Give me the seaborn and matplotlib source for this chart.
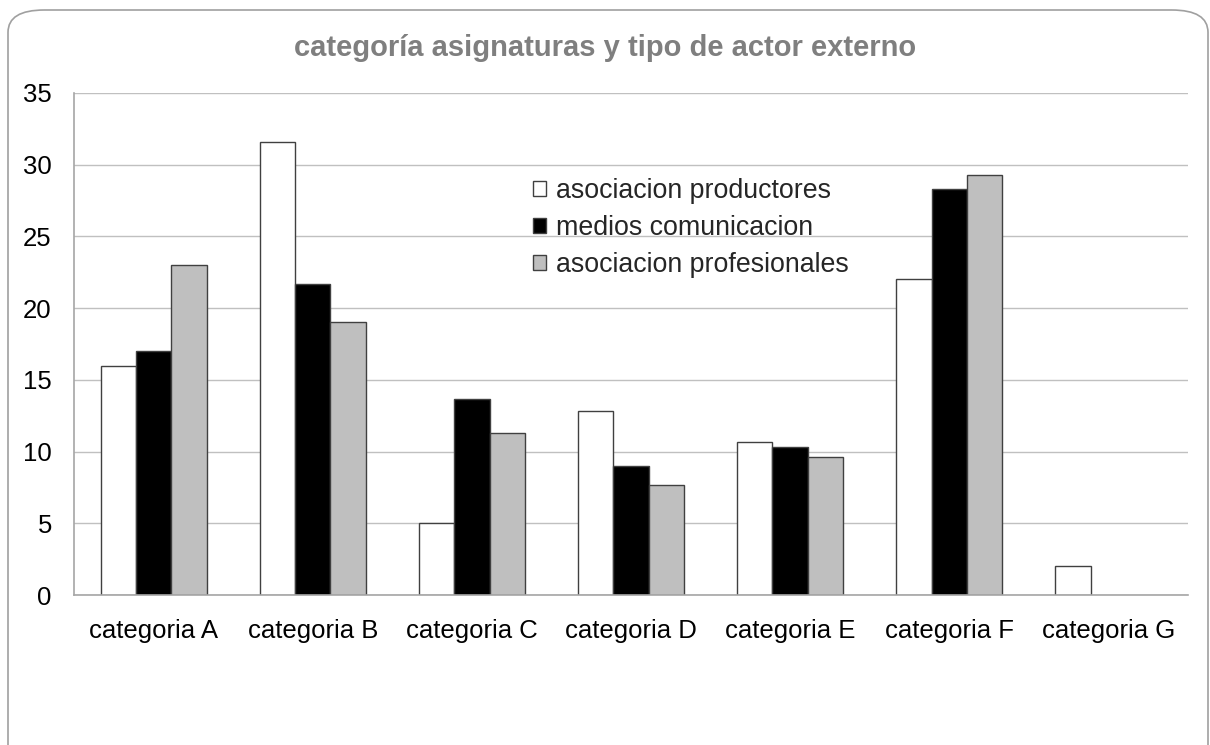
import pandas as pd
import seaborn as sns
import matplotlib.pyplot as plt
from matplotlib.patches import FancyBboxPatch, Patch

# values
categorias = ["categoria A", "categoria B", "categoria C", "categoria D",
              "categoria E", "categoria F", "categoria G"]
series = ["asociacion productores", "medios comunicacion", "asociacion profesionales"]
productores = [16.0, 31.6, 5.0, 12.8, 10.7, 22.0, 2.0]
medios = [17.0, 21.7, 13.7, 9.0, 10.3, 28.3, 0.0]
profesionales = [23.0, 19.0, 11.3, 7.7, 9.6, 29.3, 0.0]
colores = ["#ffffff", "#000000", "#bfbfbf"]

df = pd.DataFrame({
    "categoria": categorias * 3,
    "actor": [series[0]] * 7 + [series[1]] * 7 + [series[2]] * 7,
    "valor": productores + medios + profesionales,
})

sns.set_theme(style="white")
plt.rcParams['font.family'] = ['Liberation Sans', 'DejaVu Sans']

fig = plt.figure(figsize=(12.1, 7.45), dpi=100)
ax = fig.add_axes([0.0612, 0.2013, 0.9206, 0.6739])

# rounded chart border
border = FancyBboxPatch((8 / 1210, -30 / 745), 1200 / 1210, 765 / 745,
                        boxstyle="round,pad=0,rounding_size=0.03",
                        transform=fig.transFigure, facecolor="none",
                        edgecolor="#a0a0a0", linewidth=1.2, zorder=0)
fig.patches.append(border)

sns.barplot(data=df, x="categoria", y="valor", hue="actor", hue_order=series,
            palette=colores, width=0.667, gap=0, edgecolor="#404040",
            linewidth=1.0, saturation=1, legend=False, ax=ax, zorder=3)

# hide outline of zero-height bars
for p in ax.patches:
    if p.get_height() == 0:
        p.set_linewidth(0)

ax.set_ylim(0, 35)
ax.set_yticks(range(0, 36, 5))
ax.set_xlim(-0.5, 6.5)
ax.yaxis.grid(True, color="#c0c0c0", linewidth=1)
ax.set_axisbelow(True)
for s in ["top", "right"]:
    ax.spines[s].set_visible(False)
for s in ["left", "bottom"]:
    ax.spines[s].set_color("#a6a6a6")
    ax.spines[s].set_linewidth(1.2)
    ax.spines[s].set_zorder(4)
ax.tick_params(axis="both", length=0, labelsize=18.5, colors="#000000")
ax.tick_params(axis="y", pad=16)
ax.tick_params(axis="x", pad=17)
ax.set_xlabel("")
ax.set_ylabel("")

handles = [Patch(facecolor=c, edgecolor="#404040", linewidth=1.0) for c in colores]
ax.legend(handles, series, loc="center left", bbox_to_anchor=(0.412, 0.731),
          frameon=False, fontsize=19.3, handlelength=0.5, handleheight=0.5,
          handletextpad=0.35, labelspacing=0.42, borderpad=0, borderaxespad=0)

fig.text(0.5, 0.935, "categoría asignaturas y tipo de actor externo",
         ha="center", va="center", fontsize=21, fontweight="bold", color="#7f7f7f")

fig.savefig("out.png", dpi=100)
